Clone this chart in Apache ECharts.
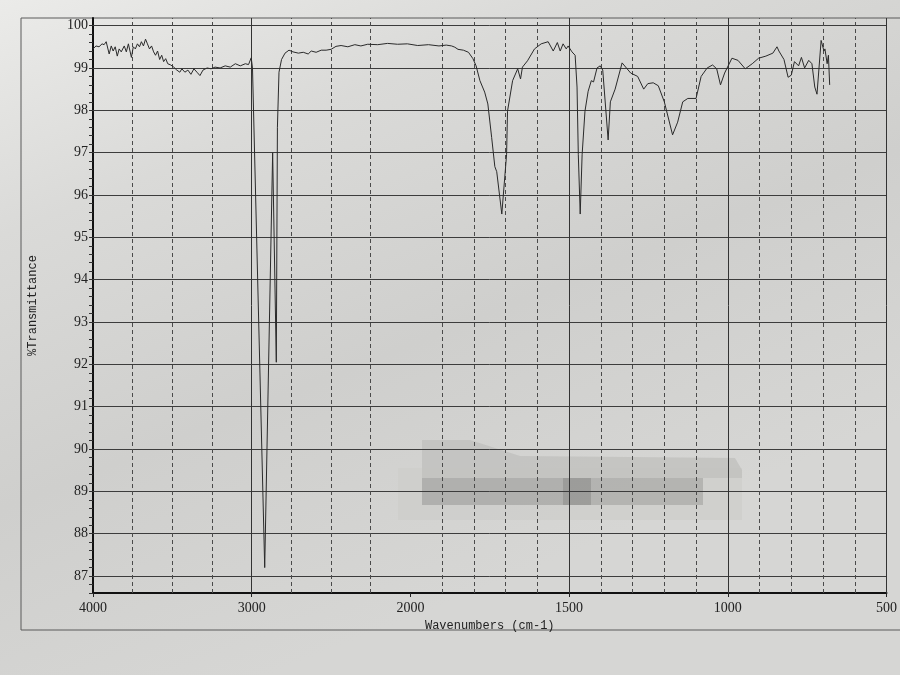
<!DOCTYPE html>
<html><head><meta charset="utf-8">
<script src="https://cdn.jsdelivr.net/npm/echarts@6/dist/echarts.min.js"></script>
<style>html,body{margin:0;padding:0;background:#d8d8d6}#c{width:900px;height:675px}</style>
</head><body><div id="c"></div>
<script>
// IR spectrum: wavenumber (cm-1) and %Transmittance
const wavenumbers = [
 4000,3981,3962,3943,3930,3917,3898,3885,3873,3860,3847,3835,3822,3803,3790,3777,3765,3758,3746,3733,
 3720,3707,3695,3682,3669,3657,3644,3631,3618,3606,3593,3580,3567,3555,3542,3529,3510,3491,3472,3453,
 3440,3421,3402,3383,3364,3345,3326,3307,3281,3256,3231,3199,3167,3135,3103,3072,3040,3020,3003,2995,
 2918,2868,2845,2838,2828,2812,2790,2765,2740,2706,2675,2644,2625,2594,2562,2531,2500,2469,2437,2394,
 2350,2312,2269,2206,2144,2081,2019,1977,1943,1910,1887,1870,1860,1850,1833,1817,1803,1793,1781,1766,
 1756,1744,1734,1728,1712,1697,1694,1678,1662,1653,1647,1631,1609,1588,1566,1550,1537,1528,1519,1509,
 1503,1491,1481,1475,1471,1465,1459,1450,1440,1430,1423,1412,1402,1394,1377,1370,1355,1333,1306,1284,
 1265,1252,1235,1219,1200,1174,1158,1142,1126,1100,1084,1065,1048,1035,1023,1010,987,968,945,923,
 903,880,858,845,839,823,810,800,790,777,768,758,745,735,726,719,706,697,694,687,683,679
];
const transmittance = [
 99.45,99.52,99.50,99.57,99.55,99.62,99.33,99.52,99.40,99.50,99.28,99.45,99.38,99.52,99.38,99.57,99.60,99.25,99.50,99.45,
 99.57,99.50,99.62,99.52,99.68,99.57,99.45,99.52,99.38,99.30,99.40,99.20,99.30,99.15,99.22,99.10,99.07,99.02,98.95,98.90,
 98.98,98.90,98.95,98.85,98.98,98.90,98.82,98.95,99.00,98.98,99.02,99.00,99.05,99.02,99.10,99.05,99.10,99.08,99.24,99.00,
 87.20,97.00,92.05,97.60,98.90,99.20,99.35,99.42,99.38,99.35,99.37,99.33,99.40,99.37,99.42,99.42,99.44,99.51,99.53,99.50,
 99.55,99.52,99.56,99.55,99.58,99.56,99.57,99.53,99.55,99.52,99.54,99.52,99.49,99.44,99.42,99.37,99.22,99.05,98.70,98.43,
 98.15,97.36,96.67,96.55,95.55,96.95,97.98,98.70,98.98,98.74,99.02,99.17,99.45,99.57,99.62,99.40,99.60,99.40,99.57,99.45,
 99.52,99.38,99.30,98.55,96.95,95.55,96.95,97.98,98.45,98.70,98.67,99.00,99.05,98.95,97.30,98.20,98.50,99.12,98.88,98.80,
 98.50,98.63,98.65,98.58,98.20,97.42,97.72,98.20,98.28,98.28,98.80,99.00,99.07,98.98,98.60,98.88,99.23,99.18,98.98,99.10,
 99.23,99.28,99.35,99.50,99.40,99.20,98.78,98.83,99.15,99.05,99.25,99.00,99.18,99.10,98.55,98.38,99.65,99.40,99.45,99.10,99.30,98.60
];
const xTickLabels = [4000, 3000, 2000, 1500, 1000, 500];
const yTickLabels = [87, 88, 89, 90, 91, 92, 93, 94, 95, 96, 97, 98, 99, 100];
const dashedGrid = [3750, 3500, 3250, 2750, 2500, 2250, 1900, 1800, 1700, 1600, 1400, 1300, 1200, 1100, 900, 800, 700, 600];
const solidGrid = [3000, 1500, 1000, 500];

// Instrument x-scale: 4000-2000 compressed by a factor 2 relative to 2000-500
function toAxis(wn) { return wn >= 2000 ? (4000 - wn) / 2 : 1000 + (2000 - wn); }
function fromAxis(t) { return t <= 1000 ? 4000 - 2 * t : 3000 - t; }

const yMinorTicks = [];
for (let k = 0; k <= 67; k++) yMinorTicks.push(+(86.6 + k * 0.2).toFixed(1));

const chart = echarts.init(document.getElementById('c'), null, { renderer: 'canvas' });
const serif = '"Liberation Serif", "DejaVu Serif", serif';
const mono = '"Liberation Mono", "DejaVu Sans Mono", monospace';

const gridMarks = [];
yTickLabels.forEach(v => gridMarks.push({ yAxis: v, lineStyle: { color: '#3c3c3c', width: 1, type: 'solid' } }));
dashedGrid.forEach(w => gridMarks.push({ xAxis: toAxis(w), lineStyle: { color: '#4a4a4a', width: 1, type: [4, 3] } }));
solidGrid.forEach(w => gridMarks.push({ xAxis: toAxis(w), lineStyle: { color: '#333', width: 1, type: 'solid' } }));

chart.setOption({
  animation: false,
  backgroundColor: {
    type: 'linear', x: 0, y: 0, x2: 0.3, y2: 1,
    colorStops: [
      { offset: 0, color: '#ebebe9' },
      { offset: 0.3, color: '#dadad8' },
      { offset: 0.65, color: '#cfcfcd' },
      { offset: 1, color: '#d6d6d4' }
    ]
  },
  grid: { left: 93, top: 18, width: 799, height: 575 },
  xAxis: {
    type: 'value', min: 0, max: 2500, interval: 500,
    name: 'Wavenumbers (cm-1)', nameLocation: 'middle', nameGap: 21,
    nameTextStyle: { fontFamily: mono, fontSize: 12, color: '#222' },
    axisLine: { show: true, onZero: false, lineStyle: { color: '#111', width: 2 } },
    axisTick: { show: true, length: 4, lineStyle: { color: '#222' } },
    axisLabel: { fontFamily: serif, fontSize: 14, color: '#222', margin: 8,
      formatter: v => String(Math.round(fromAxis(v))) },
    splitLine: { show: false }
  },
  yAxis: {
    type: 'value', min: 86.6, max: 100.18,
    name: '%Transmittance', nameLocation: 'middle', nameGap: 54, nameRotate: 90,
    nameTextStyle: { fontFamily: mono, fontSize: 12, color: '#222' },
    axisLine: { show: true, onZero: false, lineStyle: { color: '#111', width: 2 } },
    axisTick: { show: true, length: 4, customValues: yMinorTicks, lineStyle: { color: '#333' } },
    axisLabel: { fontFamily: serif, fontSize: 14, color: '#222', margin: 5, customValues: yTickLabels },
    splitLine: { show: false }
  },
  graphic: [
    { type: 'rect', z: -1, silent: true, shape: { x: 21, y: 18, width: 900, height: 612 },
      style: { fill: 'none', stroke: '#5a5a5a', lineWidth: 1 } },
    { type: 'group', z: 50, silent: true, children: [
      { type: 'rect', shape: { x: 398, y: 468, width: 344, height: 52 }, style: { fill: 'rgba(205,205,203,0.7)' } },
      { type: 'polygon', shape: { points: [[422,440],[470,440],[520,456],[735,458],[742,470],[742,478],[422,478]] }, style: { fill: 'rgba(192,192,190,0.8)' } },
      { type: 'rect', shape: { x: 422, y: 478, width: 141, height: 27 }, style: { fill: 'rgba(172,172,170,0.88)' } },
      { type: 'rect', shape: { x: 563, y: 478, width: 28, height: 27 }, style: { fill: 'rgba(152,152,150,0.92)' } },
      { type: 'rect', shape: { x: 591, y: 478, width: 112, height: 27 }, style: { fill: 'rgba(175,175,173,0.88)' } }
    ] }
  ],
  series: [
    {
      type: 'line', z: 1, silent: true, symbol: 'none', data: [[0, 90]],
      lineStyle: { opacity: 0 },
      markLine: { silent: true, symbol: 'none', animation: false, label: { show: false }, data: gridMarks }
    },
    {
      type: 'line', z: 5, symbol: 'none', smooth: false,
      data: wavenumbers.map((w, i) => [toAxis(w), transmittance[i]]),
      lineStyle: { color: '#2a2a2a', width: 1 }
    }
  ]
});
</script></body></html>
